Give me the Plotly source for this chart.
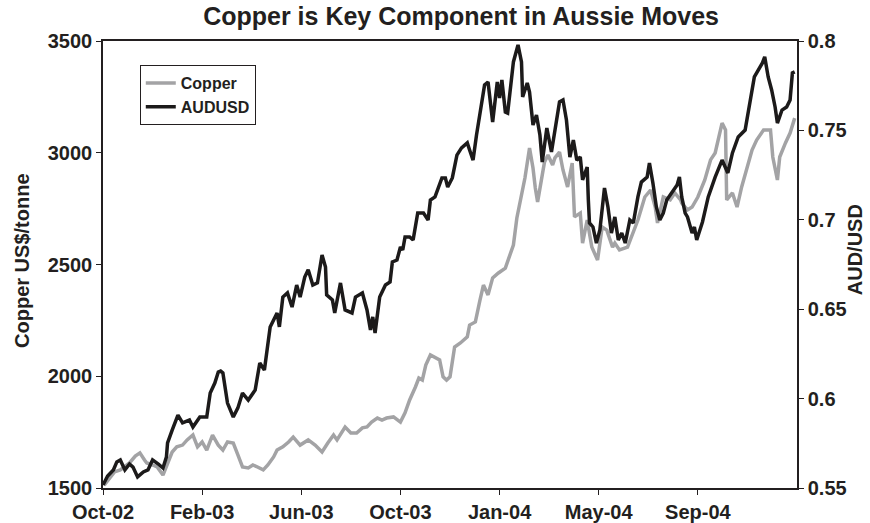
import plotly.graph_objects as go

# x positions are trading-day indices (category-style axis, one tick every 86 days)
tick_days = [0, 86, 172, 258, 344, 430, 516]
tick_labels = ["Oct-02", "Feb-03", "Jun-03", "Oct-03", "Jan-04", "May-04", "Sep-04"]

aud_day = [0, 4, 9, 12, 15, 19, 23, 26, 30, 35, 39, 43, 48, 52, 55, 56, 60, 65, 69, 75, 78, 84, 90,
           93, 97, 100, 102, 104, 108, 113, 117, 121, 126, 132, 136, 140, 145, 151, 153, 156, 160,
           164, 168, 171, 175, 178, 182, 186, 190, 193, 194, 199, 201, 206, 210, 216, 219, 225, 229,
           232, 234, 236, 240, 245, 249, 251, 255, 258, 260, 262, 266, 269, 273, 278, 282, 284, 288,
           291, 294, 297, 299, 303, 307, 311, 316, 318, 321, 324, 329, 331, 334, 338, 342, 344, 346,
           349, 351, 356, 360, 363, 364, 368, 370, 373, 376, 379, 381, 385, 389, 392, 396, 399, 402,
           405, 408, 411, 414, 416, 420, 421, 422, 425, 428, 431, 435, 438, 441, 444, 447, 450, 453,
           457, 460, 464, 467, 472, 474, 477, 480, 483, 486, 489, 493, 498, 500, 502, 505, 507, 511,
           513, 515, 520, 525, 531, 537, 542, 546, 551, 557, 560, 565, 572, 574, 577, 580, 583, 585,
           589, 593, 596, 598, 600]
aud_val = [0.5517, 0.5567, 0.5601, 0.5646, 0.5657, 0.5601, 0.5634, 0.5617, 0.5562, 0.5590, 0.5601,
           0.5657, 0.5634, 0.5612, 0.5673, 0.5752, 0.5824, 0.5908, 0.5864, 0.5880, 0.5841, 0.5897,
           0.5897, 0.6031, 0.6087, 0.6149, 0.6154, 0.6143, 0.5975, 0.5897, 0.5948, 0.6031, 0.5992,
           0.6048, 0.6199, 0.6160, 0.6401, 0.6479, 0.6401, 0.6568, 0.6591, 0.6512, 0.6635, 0.6568,
           0.6680, 0.6720, 0.6635, 0.6647, 0.6803, 0.6736, 0.6580, 0.6552, 0.6479, 0.6647, 0.6496,
           0.6479, 0.6568, 0.6591, 0.6496, 0.6384, 0.6457, 0.6367, 0.6568, 0.6635, 0.6652, 0.6764,
           0.6775, 0.6848, 0.6831, 0.6904, 0.6904, 0.6887, 0.7038, 0.7038, 0.6999, 0.7111, 0.7128,
           0.7183, 0.7234, 0.7234, 0.7183, 0.7234, 0.7362, 0.7402, 0.7430, 0.7390, 0.7334, 0.7474,
           0.7681, 0.7754, 0.7771, 0.7547, 0.7771, 0.7681, 0.7782, 0.7603, 0.7597, 0.7883, 0.7978,
           0.7883, 0.7687, 0.7765, 0.7715, 0.7530, 0.7586, 0.7474, 0.7323, 0.7513, 0.7379, 0.7491,
           0.7659, 0.7670, 0.7558, 0.7351, 0.7446, 0.7334, 0.7351, 0.7223, 0.7295, 0.7111, 0.6982,
           0.6960, 0.6870, 0.6943, 0.7178, 0.7072, 0.6926, 0.7016, 0.6887, 0.6926, 0.6870, 0.6999,
           0.6982, 0.7128, 0.7211, 0.7239, 0.7318, 0.7206, 0.7072, 0.6999, 0.7038, 0.7111, 0.7150,
           0.7195, 0.7239, 0.7128, 0.7038, 0.7016, 0.6926, 0.6960, 0.6887, 0.6988, 0.7128, 0.7239,
           0.7334, 0.7262, 0.7374, 0.7463, 0.7502, 0.7614, 0.7799, 0.7877, 0.7911, 0.7799, 0.7726,
           0.7631, 0.7541, 0.7614, 0.7631, 0.7670, 0.7821, 0.7827]

cu_day = [1, 6, 10, 15, 19, 23, 28, 32, 36, 38, 43, 47, 52, 55, 60, 64, 69, 73, 78, 82, 86, 90, 95,
          100, 104, 108, 113, 117, 121, 126, 130, 134, 139, 143, 148, 151, 156, 161, 165, 171, 178,
          184, 190, 195, 200, 203, 210, 215, 220, 225, 229, 233, 238, 242, 246, 252, 258, 262, 266,
          271, 274, 277, 280, 284, 288, 292, 295, 298, 301, 305, 310, 316, 318, 323, 327, 330, 334,
          338, 343, 349, 353, 356, 359, 363, 366, 370, 373, 375, 377, 381, 383, 386, 390, 392, 396,
          399, 403, 407, 409, 414, 416, 420, 424, 429, 433, 437, 442, 444, 448, 455, 460, 464, 470,
          475, 479, 481, 486, 492, 496, 501, 502, 507, 511, 516, 522, 527, 531, 537, 540, 541, 546,
          550, 554, 559, 563, 567, 573, 579, 581, 585, 587, 592, 596, 600]
cu_val = [1513, 1545, 1572, 1581, 1598, 1612, 1643, 1657, 1625, 1612, 1603, 1594, 1558, 1594, 1661,
          1684, 1692, 1715, 1737, 1684, 1706, 1670, 1737, 1692, 1670, 1706, 1701, 1648, 1594, 1590,
          1603, 1594, 1581, 1603, 1639, 1670, 1684, 1706, 1728, 1692, 1715, 1692, 1661, 1701, 1737,
          1715, 1773, 1746, 1746, 1769, 1773, 1795, 1813, 1804, 1813, 1818, 1795, 1836, 1894, 1952,
          1992, 1983, 2050, 2095, 2086, 2073, 1997, 1983, 1997, 2131, 2149, 2176, 2229, 2243, 2341,
          2408, 2364, 2440, 2462, 2484, 2543, 2587, 2708, 2811, 2887, 3021, 2932, 2842, 2780, 2900,
          2959, 2990, 2945, 2977, 3003, 2923, 2847, 2954, 2713, 2730, 2596, 2699, 2578, 2520, 2668,
          2654, 2578, 2596, 2565, 2578, 2641, 2699, 2802, 2833, 2757, 2686, 2802, 2789, 2820, 2789,
          2775, 2744, 2757, 2802, 2878, 2968, 2999, 3133, 3102, 2789, 2820, 2757, 2847, 2936, 3012,
          3057, 3102, 3102, 2981, 2878, 2981, 3044, 3088, 3155]

FONT = "Liberation Sans, Arial, Helvetica, sans-serif"
INK = "#231f20"

fig = go.Figure()
fig.add_trace(go.Scatter(x=cu_day, y=cu_val, name="Copper", mode="lines",
                         line=dict(color="#a3a3a5", width=3.5), yaxis="y"))
fig.add_trace(go.Scatter(x=aud_day, y=aud_val, name="AUDUSD", mode="lines",
                         line=dict(color="#1c1a1a", width=3.5), yaxis="y2"))

fig.update_layout(
    width=870, height=523,
    margin=dict(l=103, r=73, t=41, b=35, autoexpand=False),
    paper_bgcolor="white", plot_bgcolor="white",
    font=dict(family=FONT, color=INK, size=15),
    title=dict(text="<b>Copper is Key Component in Aussie Moves</b>",
               x=0.53, xanchor="center", xref="container",
               y=0.968, yanchor="middle", yref="container",
               font=dict(size=25, family=FONT, color=INK)),
    showlegend=True,
    legend=dict(x=0.053, y=0.946, xanchor="left", yanchor="top",
                bordercolor=INK, borderwidth=1, bgcolor="white",
                font=dict(size=16, family=FONT, weight="bold"),
                tracegroupgap=0),
    xaxis=dict(range=[0, 602], tickvals=tick_days, ticktext=tick_labels, automargin=False,
               showgrid=False, zeroline=False, showline=True, linecolor=INK,
               linewidth=1.5, mirror=True, ticks="outside", ticklen=5,
               tickcolor=INK, tickfont=dict(size=20, weight="bold")),
    yaxis=dict(range=[1500, 3500], dtick=500, showgrid=False, zeroline=False, automargin=False,
               showline=True, linecolor=INK, linewidth=1.5,
               ticks="outside", ticklen=5, tickcolor=INK,
               tickfont=dict(size=20, weight="bold")),
    yaxis2=dict(range=[0.55, 0.8], tickvals=[0.55, 0.6, 0.65, 0.7, 0.75, 0.8],
                ticktext=["0.55", "0.6", "0.65", "0.7", "0.75", "0.8"], automargin=False,
                overlaying="y", side="right", showgrid=False, zeroline=False,
                showline=True, linecolor=INK, linewidth=1.5,
                ticks="outside", ticklen=5, tickcolor=INK,
                tickfont=dict(size=20, weight="bold")),
    annotations=[
        dict(text="<b>Copper US$/tonne</b>", textangle=-90, xref="paper", yref="paper",
             x=-0.1167, y=0.508, xanchor="center", yanchor="middle", showarrow=False,
             font=dict(size=20, family=FONT, color=INK)),
        dict(text="<b>AUD/USD</b>", textangle=-90, xref="paper", yref="paper",
             x=1.0836, y=0.532, xanchor="center", yanchor="middle", showarrow=False,
             font=dict(size=20, family=FONT, color=INK)),
    ],
)

fig.write_html("out.html", config={"displayModeBar": False},
               post_script="document.body.style.margin='0';document.body.style.padding='0';")
